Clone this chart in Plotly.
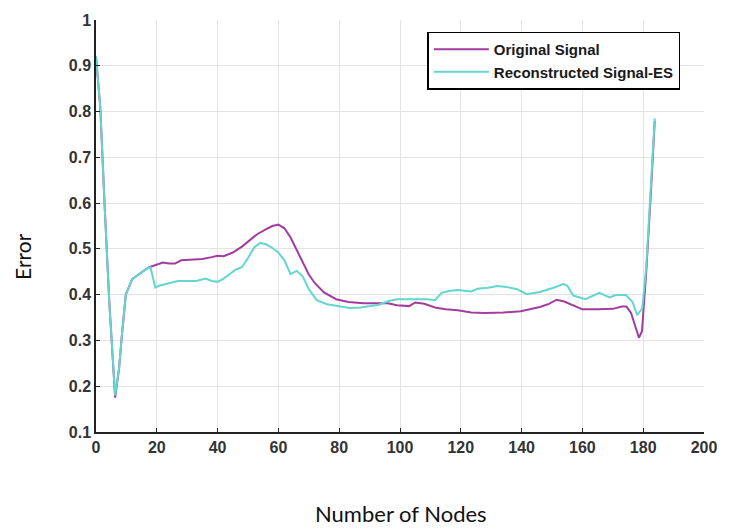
import plotly.graph_objects as go

# ---- data ----
orig_x = [0, 1.4, 2.8, 4.4, 6.3, 7.6, 8.5, 9.8, 11.9, 14, 16.3, 17.5, 20, 22, 24, 26, 28, 31, 35, 38,
          40, 42, 45, 48, 50, 53, 56, 58, 60, 62, 64, 66, 68, 70, 72, 75, 79, 83, 88, 92,
          96, 99, 103, 105, 108, 111.5, 115, 119, 123.4, 128, 134, 139.7, 143, 146, 149, 151.5, 154, 157, 160, 165,
          170, 173, 174.5, 176, 177.5, 178.6, 179.6, 181, 182.5, 183.8]
orig_y = [0.92, 0.81, 0.6, 0.38, 0.175, 0.24, 0.31, 0.40, 0.434, 0.445, 0.455, 0.46, 0.465, 0.47, 0.468, 0.468, 0.475, 0.477, 0.478, 0.482,
          0.485, 0.484, 0.492, 0.505, 0.515, 0.532, 0.543, 0.55, 0.553, 0.545, 0.525, 0.498, 0.47, 0.444, 0.425, 0.405, 0.39, 0.384, 0.381, 0.381,
          0.381, 0.377, 0.375, 0.383, 0.38, 0.372, 0.368, 0.366, 0.361, 0.36, 0.361, 0.364, 0.368, 0.373, 0.38, 0.389, 0.385, 0.377, 0.368, 0.368,
          0.369, 0.374, 0.374, 0.36, 0.33, 0.306, 0.32, 0.45, 0.62, 0.78]

recon_x = [0, 1.4, 2.8, 4.4, 6.3, 7.6, 8.5, 9.8, 11.9, 14, 16.3, 17.9, 19.5, 21, 24, 27, 30, 33, 36, 38,
           40, 42, 44, 46, 48, 50, 52, 54, 56, 58, 60, 62, 64, 66, 68, 70, 72.6, 76, 79, 83.4,
           87, 90, 93, 96.3, 99, 103, 106, 109, 111.5, 113.7, 116, 119, 123.4, 125.6, 129, 132, 135, 138.5, 141.7, 146,
           150.5, 153.7, 155, 157, 161, 165.6, 168.9, 171, 174.3, 176.5, 178, 179.7, 181, 182.5, 183.8]
recon_y = [0.92, 0.81, 0.6, 0.38, 0.18, 0.24, 0.31, 0.40, 0.434, 0.445, 0.455, 0.46, 0.416, 0.42, 0.425, 0.43, 0.43, 0.43, 0.435, 0.43,
           0.428, 0.435, 0.445, 0.455, 0.46, 0.48, 0.503, 0.513, 0.51, 0.502, 0.492, 0.475, 0.445, 0.452, 0.44, 0.412, 0.388, 0.379, 0.376, 0.371,
           0.372, 0.375, 0.378, 0.386, 0.39, 0.39, 0.39, 0.39, 0.388, 0.404, 0.408, 0.41, 0.407, 0.413, 0.415, 0.419, 0.417, 0.412, 0.401, 0.406,
           0.415, 0.423, 0.42, 0.398, 0.39, 0.404, 0.394, 0.399, 0.399, 0.384, 0.355, 0.37, 0.46, 0.63, 0.785]

x_ticks = [0, 20, 40, 60, 80, 100, 120, 140, 160, 180, 200]
y_ticks = [0.1, 0.2, 0.3, 0.4, 0.5, 0.6, 0.7, 0.8, 0.9, 1.0]
y_tick_text = ["<b>0.1</b>", "<b>0.2</b>", "<b>0.3</b>", "<b>0.4</b>", "<b>0.5</b>", "<b>0.6</b>",
               "<b>0.7</b>", "<b>0.8</b>", "<b>0.9</b>", "<b>1</b>"]
x_tick_text = ["<b>%d</b>" % v for v in x_ticks]

assert len(orig_x) == len(orig_y)
assert len(recon_x) == len(recon_y)

fig = go.Figure()
fig.add_trace(go.Scatter(x=orig_x, y=orig_y, mode="lines", name="<b>Original Signal</b>",
                         line=dict(color="#A23C9E", width=2)))
fig.add_trace(go.Scatter(x=recon_x, y=recon_y, mode="lines", name="<b>Reconstructed Signal-ES</b>",
                         line=dict(color="#62D6CF", width=2)))

tick_font = dict(family="Liberation Sans, Arial, sans-serif", size=16, color="#333333")
fig.update_layout(
    width=729, height=531,
    margin=dict(l=96, r=17, t=13, b=99),
    paper_bgcolor="white", plot_bgcolor="white",
    showlegend=True,
    legend=dict(x=0.545, y=0.972, xanchor="left", yanchor="top",
                bgcolor="white", bordercolor="black", borderwidth=1.5,
                font=dict(family="Liberation Sans, Arial, sans-serif", size=15, color="#1a1a1a"),
                tracegroupgap=0, itemwidth=55),
    xaxis=dict(range=[0, 200], tickvals=x_ticks, ticktext=x_tick_text, showgrid=True,
               gridcolor="#E3E3E3", gridwidth=1,
               zeroline=False, showline=True, linecolor="#222222", linewidth=1.5,
               ticks="inside", ticklen=4, tickcolor="#222222", tickfont=tick_font),
    yaxis=dict(range=[0.1, 1.0], tickvals=y_ticks, ticktext=y_tick_text, showgrid=True,
               gridcolor="#E3E3E3", gridwidth=1, zeroline=False, showline=True,
               linecolor="#222222", linewidth=1.5, ticks="inside", ticklen=4,
               tickcolor="#222222", tickfont=tick_font),
    annotations=[
        dict(text="Number of Nodes", xref="paper", yref="paper", x=0.502, y=-0.198,
             xanchor="center", yanchor="middle", showarrow=False,
             font=dict(family="Lato, Open Sans, sans-serif", size=22, color="#111111")),
        dict(text="Error", xref="paper", yref="paper", x=-0.12, y=0.425, textangle=-90,
             xanchor="center", yanchor="middle", showarrow=False,
             font=dict(family="Lato, Open Sans, sans-serif", size=21, color="#111111")),
    ],
)

fig.write_html("out.html")
